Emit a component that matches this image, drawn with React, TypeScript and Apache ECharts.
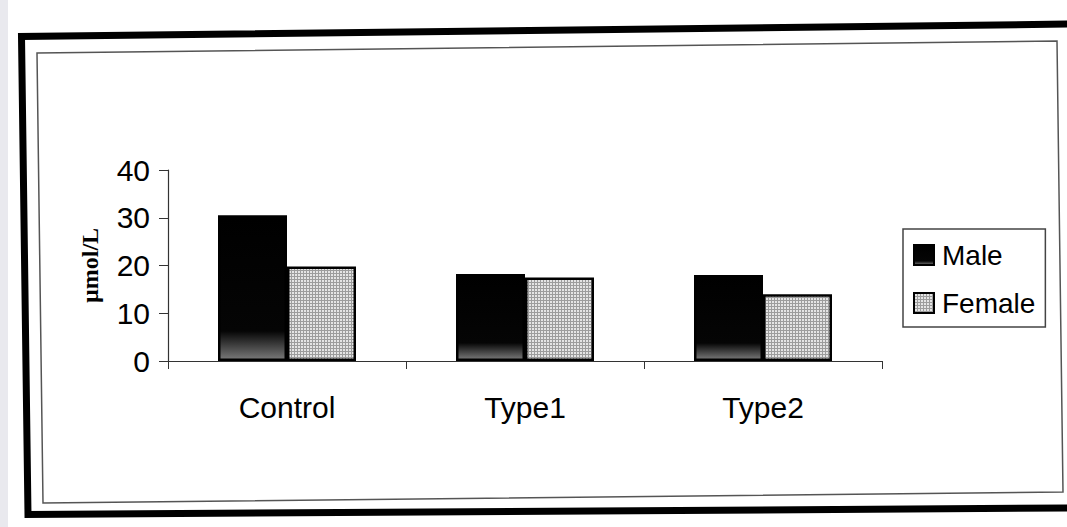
import React, { useEffect, useRef } from "react";
import * as echarts from "echarts";

// Chart data
const categories = ["Control", "Type1", "Type2"];
const maleValues = [30.5, 18.2, 18.0];
const femaleValues = [19.8, 17.5, 14.0];
const yTicks = { min: 0, max: 40, interval: 10 };
const yAxisName = "µmol/L";

const SANS = 'Arial, "Liberation Sans", Helvetica, sans-serif';
const SERIF = '"Times New Roman", "Liberation Serif", serif';

// Fine light-grey grid texture for the Female bars
function makeFemalePattern(): HTMLCanvasElement {
  const c = document.createElement("canvas");
  c.width = 3;
  c.height = 3;
  const ctx = c.getContext("2d")!;
  ctx.fillStyle = "#e4e4e4";
  ctx.fillRect(0, 0, 3, 3);
  ctx.fillStyle = "#9c9c9c";
  ctx.fillRect(0, 0, 3, 1);
  ctx.fillRect(0, 0, 1, 3);
  return c;
}

export default function App() {
  const ref = useRef<HTMLDivElement>(null);

  useEffect(() => {
    if (!ref.current) return;
    const chart = echarts.init(ref.current, null, { renderer: "svg" });

    const maleFill = new echarts.graphic.LinearGradient(0, 0, 0, 1, [
      { offset: 0, color: "#000000" },
      { offset: 0.8, color: "#050505" },
      { offset: 1, color: "#7a7a7a" },
    ]);
    const femaleFill = { image: makeFemalePattern(), repeat: "repeat" };

    chart.setOption({
      animation: false,
      backgroundColor: "#ffffff",
      textStyle: { fontFamily: SANS, color: "#000" },
      grid: { left: 168, right: 185, top: 170, bottom: 166, containLabel: false },
      legend: {
        orient: "vertical",
        left: 903,
        top: 229,
        padding: [12, 10, 10, 10],
        borderColor: "#444",
        borderWidth: 1.5,
        itemWidth: 20,
        itemHeight: 20,
        itemGap: 20,
        icon: "rect",
        textStyle: {
          fontFamily: SANS,
          fontSize: 28,
          lineHeight: 28,
          color: "#000",
          padding: [0, 0, 0, 3],
        },
        data: ["Male", "Female"],
      },
      xAxis: {
        type: "category",
        data: categories,
        boundaryGap: true,
        axisLine: { show: true, lineStyle: { color: "#333", width: 1.2 } },
        axisTick: { show: true, length: 8, alignWithLabel: false, lineStyle: { color: "#333" } },
        axisLabel: { fontFamily: SANS, fontSize: 30, color: "#000", margin: 31 },
        splitLine: { show: false },
      },
      yAxis: {
        type: "value",
        min: yTicks.min,
        max: yTicks.max,
        interval: yTicks.interval,
        name: yAxisName,
        nameLocation: "middle",
        nameRotate: 90,
        nameGap: 66,
        nameTextStyle: { fontFamily: SERIF, fontWeight: "bold", fontSize: 24, color: "#000" },
        axisLine: { show: true, lineStyle: { color: "#333", width: 1.2 } },
        axisTick: { show: true, length: 9, inside: false, lineStyle: { color: "#333" } },
        axisLabel: { fontFamily: SANS, fontSize: 30, color: "#000", margin: 18 },
        splitLine: { show: false },
      },
      series: [
        {
          name: "Male",
          type: "bar",
          data: maleValues,
          barWidth: 69,
          barGap: "0%",
          itemStyle: { color: maleFill, borderColor: "#000", borderWidth: 2.5 },
        },
        {
          name: "Female",
          type: "bar",
          data: femaleValues,
          barWidth: 69,
          barGap: "0%",
          itemStyle: { color: femaleFill, borderColor: "#000", borderWidth: 2.5 },
        },
      ],
      graphic: [
        // page edge shading on the far left
        {
          type: "rect",
          shape: { x: 0, y: 0, width: 8, height: 527 },
          style: { fill: "#e9e9ee" },
          silent: true,
        },
        // thick outer frame
        {
          type: "polyline",
          shape: {
            points: [
              [1075, 24],
              [21.5, 36.5],
              [28, 514.5],
              [1075, 508],
            ],
          },
          style: { stroke: "#000", lineWidth: 7, fill: null },
          silent: true,
        },
        // thin inner frame
        {
          type: "polygon",
          shape: {
            points: [
              [37, 53],
              [1057, 41],
              [1063, 492],
              [43, 503],
            ],
          },
          style: { stroke: "#555", lineWidth: 1.5, fill: null },
          silent: true,
        },
      ],
    });

    return () => chart.dispose();
  }, []);

  return (
    <div
      ref={ref}
      style={{ position: "fixed", left: 0, top: 0, width: 1067, height: 527 }}
    />
  );
}
